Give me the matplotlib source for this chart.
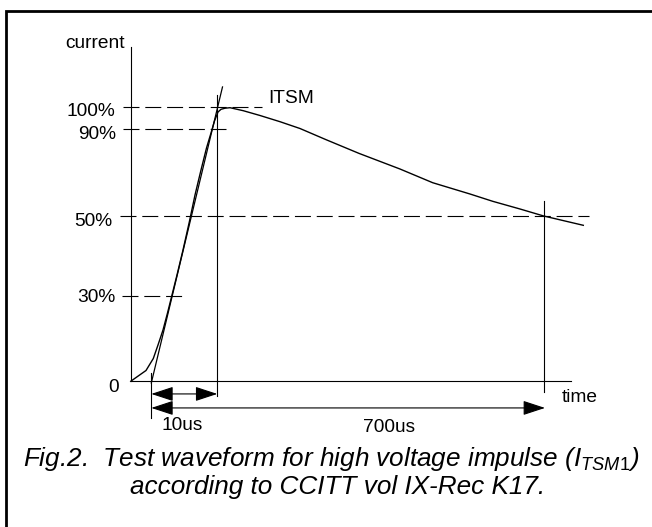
import matplotlib
matplotlib.use("Agg")
import matplotlib.pyplot as plt

plt.rcParams['font.family'] = 'Liberation Sans'
plt.rcParams['mathtext.fontset'] = 'custom'
plt.rcParams['mathtext.it'] = 'Liberation Sans:italic'
plt.rcParams['mathtext.rm'] = 'Liberation Sans'
plt.rcParams['lines.scale_dashes'] = False

# waveform (x: time units, y: current units, 100 = ITSM)
wave_t = [0, 15.3, 22.6, 27.3, 32.3, 36.8, 41.3, 46.3, 52.3, 58.6, 64.3, 70.3,
          75.8, 80.3, 83.8, 87.3, 90.3, 94.3, 99.3, 112.6, 129.3, 149.3, 169.3,
          195.3, 228.3, 269.3, 302, 339.3, 362, 389.3, 413, 452.6]
wave_i = [0, 3.93, 8.30, 13.22, 18.68, 24.87, 31.43, 38.71, 47.81, 58.01, 67.84,
          76.95, 84.96, 90.42, 94.79, 98.07, 99.05, 99.45, 99.64, 98.54, 96.80,
          94.54, 92.06, 88.0, 83.0, 77.31, 72.32, 68.21, 65.55, 62.75, 60.20, 56.81]

# front tangent through 30% / 90%
tangent_t = [20.6, 91.8]
tangent_i = [-0.6, 107.2]

# dashed reference levels
level_names = ['100%', '90%', '50%', '30%', '0']
level_y = [100, 92.0, 60.2, 31.2, 0]
level_x0 = [-8, -8, -10.7, -8.7]
level_x1 = [131, 95, 458.6, 56.6]
level_lbl_x = [-15, -15, -18, -15.7, -11.7]
level_lbl_y = [96.7, 88.1, 56.6, 29.0, -3.8]

# timing markers
t_start = 20.6
t_front = 86.6
t_half = 413
t_arrow_end = 414.3
arrow_y_front = -4.6
arrow_y_tail = -9.7

fig = plt.figure(figsize=(6.52, 5.27), dpi=100)
ax = fig.add_axes([0, 0, 1, 1])
ax.set_xlim(-130.7, 521.3)
ax.set_ylim(-53.06, 138.86)
ax.axis('off')

# frame (cut off at right and bottom)
ax.plot([-124.5, -124.5, 530], [-60, 135.0, 135.0], color='black', lw=2.0,
        solid_joinstyle='miter')

# axes of the sketch
ax.plot([0, 0], [0, 121.85], color='black', lw=0.8)
ax.plot([0, 440.3], [0, 0], color='black', lw=0.8)

# level lines
for i in range(4):
    ax.plot([level_x0[i], level_x1[i]], [level_y[i], level_y[i]], color='black',
            lw=0.8, dashes=(11.5, 4.2))
for i in range(5):
    ax.text(level_lbl_x[i], level_lbl_y[i], level_names[i], ha='right',
            va='baseline', fontsize=13.8)

# verticals
ax.plot([t_front, t_front], [104.3, -5.2], color='black', lw=0.8)
ax.plot([t_half, t_half], [65.5, -4.0], color='black', lw=0.8)
ax.plot([t_start, t_start], [3.0, -13.4], color='black', lw=0.8)

ax.plot(tangent_t, tangent_i, color='black', lw=0.9)
ax.plot(wave_t, wave_i, color='black', lw=1.0)

# arrows
arr = dict(arrowstyle='<|-|>,head_length=1.37,head_width=0.45', color='black',
           lw=0.8, shrinkA=0, shrinkB=0, mutation_scale=10)
ax.annotate('', xy=(t_front, arrow_y_front), xytext=(t_start, arrow_y_front),
            arrowprops=arr)
ax.annotate('', xy=(t_arrow_end, arrow_y_tail), xytext=(t_start, arrow_y_tail),
            arrowprops=arr)

ax.text(-5.7, 121.3, 'current', ha='right', va='baseline', fontsize=13.8)
ax.text(137.6, 101.2, 'ITSM', ha='left', va='baseline', fontsize=13.8)
ax.text(431, -7.4, 'time', ha='left', va='baseline', fontsize=13.8)
ax.text(31, -17.7, '10us', ha='left', va='baseline', fontsize=13.8)
ax.text(232, -18.6, '700us', ha='left', va='baseline', fontsize=13.8)

ax.text(-107.4, -30.7,
        r'Fig.2.  Test waveform for high voltage impulse ($I_{\mathit{TSM1}}$)',
        ha='left', va='baseline', fontsize=18.8, style='italic')
ax.text(-0.7, -41.0, 'according to CCITT vol IX-Rec K17.', ha='left',
        va='baseline', fontsize=18.8, style='italic')

fig.savefig('out.png', dpi=100)
